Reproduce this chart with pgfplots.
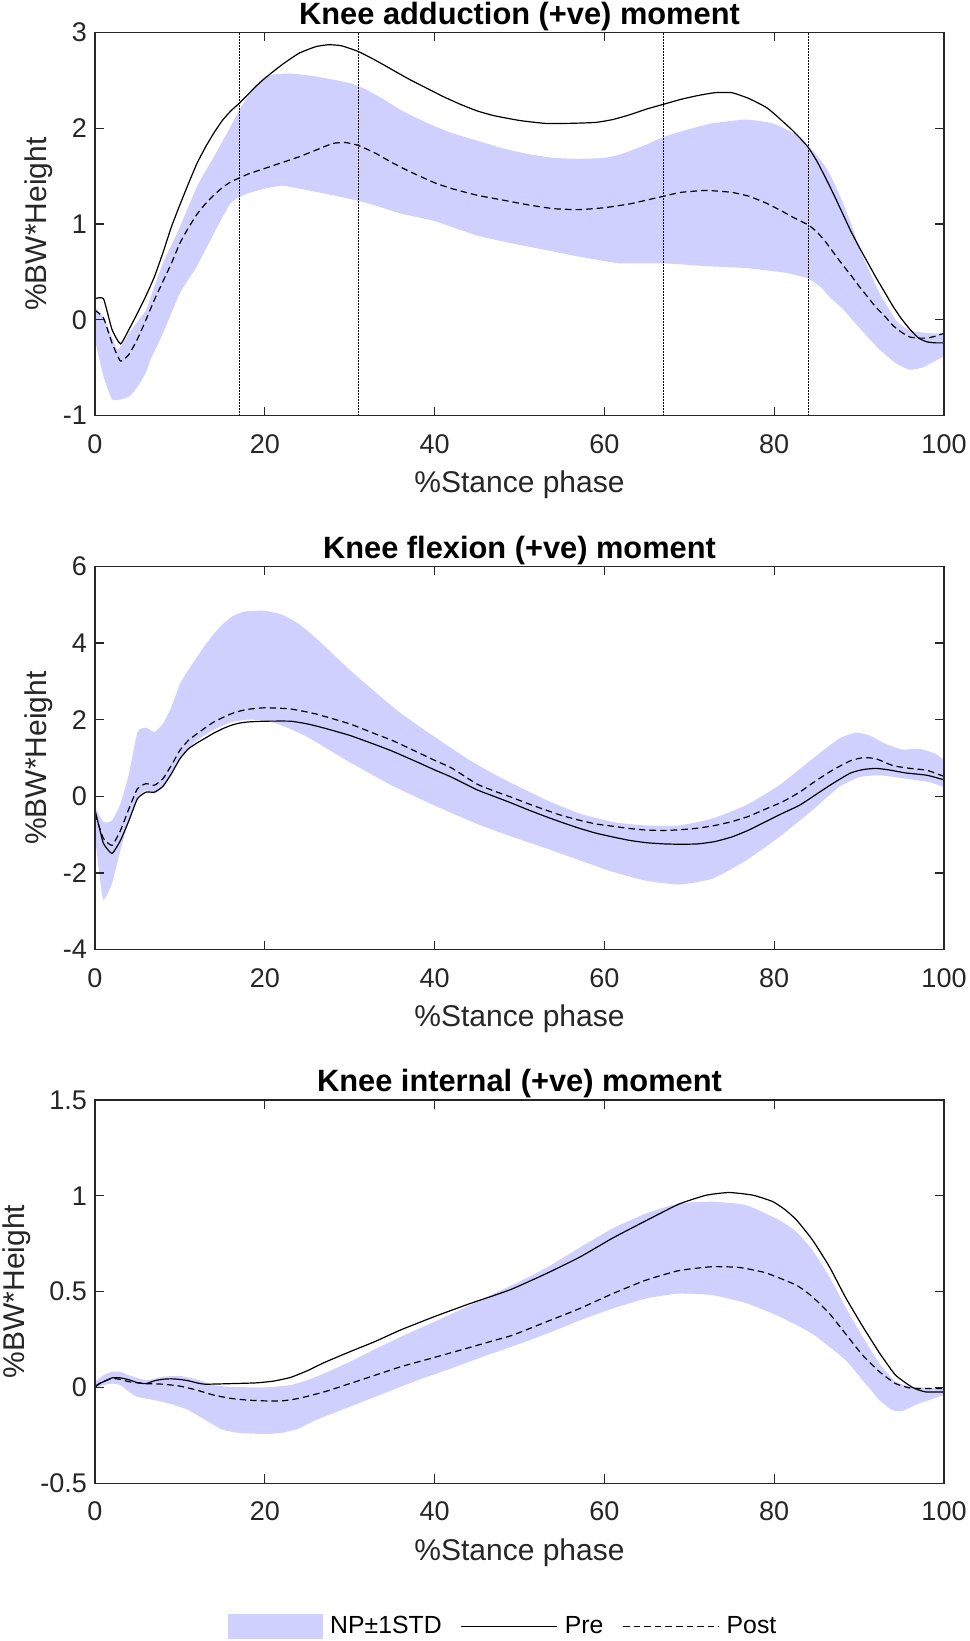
\documentclass[border=0pt]{standalone}
\usepackage{fontspec}
\setmainfont{Liberation Sans}
\usepackage{pgfplots}
\pgfplotsset{compat=1.18}
\usepgfplotslibrary{fillbetween}
\definecolor{axgray}{RGB}{38,38,38}
\definecolor{bandblue}{RGB}{208,208,255}
\pgfplotsset{
  panel/.style={
    scale only axis, width=424.5pt, height=191.7pt,
    xmin=0, xmax=100, xtick={0,20,40,60,80,100},
    tick align=inside, major tick length=4.5pt,
    axis on top,
    axis line style={draw=axgray, line width=0.6pt},
    tick style={draw=axgray, line width=0.6pt},
    /pgf/number format/assume math mode=true,
    tick label style={font=\fontsize{13.5}{15}\selectfont, text=axgray},
    xticklabel style={anchor=base, yshift=-18.8pt},
    yticklabel style={anchor=east, xshift=-0.5pt},
    xlabel={\%Stance phase},
    ylabel={\%BW*Height},
    label style={font=\fontsize{15}{18}\selectfont, text=axgray},
    xlabel style={at={(axis description cs:0.5,0)}, anchor=base, yshift=-38.5pt},
    every axis title/.style={at={(axis description cs:0.5,1)}, anchor=base, yshift=4pt, font=\fontsize{15.4}{18}\selectfont\bfseries, text=black},
  },
  bnd/.style={draw=none, forget plot, smooth, tension=0.3},
  pre/.style={black, line width=0.6pt, forget plot, smooth, tension=0.3},
  post/.style={black, line width=0.6pt, dash pattern=on 3.3pt off 2pt, forget plot, smooth, tension=0.3},
  vline/.style={black, line width=0.5pt, dash pattern=on 0.6pt off 0.9pt, forget plot},
}
\begin{document}
\begin{tikzpicture}
% ---------------- Panel 1 ----------------
\begin{axis}[panel, at={(47.5pt,-207.85pt)}, anchor=south west,
  ymin=-1, ymax=3, ytick={-1,0,1,2,3},
  ylabel style={at={(axis description cs:-0.0571,0.5)}, anchor=base},
  title={Knee adduction (+ve) moment}]
\addplot[bnd, name path=u1] coordinates {
(0,0.12) (1,0.03) (2,-0.18) (2.7,-0.31) (4,-0.14) (5,-0.02) (6,0.10) (7,0.35) (8,0.59) (9,0.78) (10,0.97) (11,1.18) (12,1.39) (13,1.55) (14,1.70) (15,1.86) (16,2.02) (17,2.19) (18,2.33) (19,2.45) (20,2.52) (21,2.56) (23,2.57) (26,2.54) (30,2.47) (32,2.40) (34,2.30) (36,2.19) (38,2.10) (40,2.02) (42,1.95) (45,1.87) (48,1.79) (51,1.73) (54,1.69) (57,1.68) (60,1.69) (62,1.73) (65,1.83) (67,1.91) (70,1.99) (72.7,2.05) (76.7,2.09) (79.8,2.05) (82.2,1.95) (84.5,1.77) (86,1.60) (86.9,1.46) (88,1.24) (89.2,0.97) (90,0.75) (90.8,0.59) (92.4,0.28) (94.3,0.0) (95.5,-0.09) (96.3,-0.12) (98.3,-0.14) (100,-0.14)};
\addplot[bnd, name path=l1] coordinates {
(0,-0.21) (1,-0.59) (2,-0.83) (3,-0.83) (4,-0.80) (5,-0.70) (6,-0.55) (6.5,-0.42) (7,-0.33) (8,-0.14) (9,0.07) (10,0.28) (11,0.42) (12,0.56) (13,0.73) (14,0.90) (15,1.07) (16,1.22) (17,1.28) (18,1.32) (20,1.37) (22,1.40) (24,1.37) (28,1.30) (32,1.22) (36,1.11) (40,1.03) (45,0.88) (49,0.80) (53,0.73) (57,0.66) (61.8,0.59) (67,0.59) (72,0.56) (76.7,0.54) (81.4,0.49) (84,0.43) (85.5,0.34) (86.5,0.24) (88,0.12) (89.2,0.0) (90.8,-0.16) (92.4,-0.31) (94.3,-0.45) (95.9,-0.52) (97.4,-0.50) (98.5,-0.45) (100,-0.38)};
\addplot[bandblue, forget plot] fill between[of=u1 and l1];
\addplot[vline] coordinates {(17,-1) (17,3)};
\addplot[vline] coordinates {(31,-1) (31,3)};
\addplot[vline] coordinates {(67,-1) (67,3)};
\addplot[vline] coordinates {(84,-1) (84,3)};
\addplot[pre] coordinates {
(0,0.22) (1,0.22) (2,-0.10) (3,-0.25) (4,-0.10) (5,0.07) (6,0.25) (7,0.45) (8,0.70) (9,0.97) (10,1.20) (11,1.42) (12,1.63) (13,1.80) (14,1.95) (15,2.08) (16,2.18) (17,2.26) (18,2.35) (19,2.44) (20,2.52) (22,2.66) (24,2.78) (26,2.85) (27.5,2.87) (29,2.86) (31,2.80) (33,2.71) (35,2.61) (37,2.51) (39,2.42) (41,2.33) (43,2.25) (45,2.18) (47,2.13) (50,2.08) (53,2.05) (56,2.05) (59,2.06) (61,2.09) (63,2.14) (65,2.20) (67,2.25) (69,2.30) (71,2.34) (73,2.37) (75,2.37) (77,2.31) (79,2.22) (80,2.15) (81,2.07) (82,1.99) (83,1.90) (84,1.80) (85,1.66) (86,1.49) (87,1.31) (88,1.12) (89,0.93) (90,0.76) (91,0.60) (92,0.44) (93,0.29) (94,0.14) (95,0.01) (96,-0.10) (97,-0.19) (98,-0.23) (99,-0.24) (100,-0.24)};
\addplot[post] coordinates {
(0,0.10) (1,0.02) (2,-0.24) (3,-0.43) (4,-0.36) (5,-0.20) (6,0.0) (7,0.21) (8,0.40) (9,0.59) (10,0.80) (11,0.96) (12,1.10) (13,1.21) (14,1.30) (15,1.38) (16,1.44) (17,1.48) (18,1.52) (20,1.58) (22,1.64) (24,1.70) (26,1.77) (28,1.84) (29.5,1.85) (31,1.82) (33,1.74) (35,1.64) (37,1.55) (40,1.43) (42,1.37) (45,1.30) (48,1.25) (51,1.20) (54,1.16) (57,1.15) (60,1.17) (63,1.21) (65,1.25) (67,1.29) (69,1.33) (72,1.35) (75,1.33) (77,1.29) (79,1.22) (81,1.13) (82,1.08) (84,0.99) (85,0.92) (86,0.82) (87,0.70) (88,0.58) (89,0.47) (90,0.35) (91,0.24) (92,0.13) (93,0.04) (94,-0.06) (95,-0.13) (96,-0.18) (97,-0.19) (98,-0.19) (99,-0.17) (100,-0.14)};
\end{axis}
% ---------------- Panel 2 ----------------
\begin{axis}[panel, at={(47.5pt,-474.85pt)}, anchor=south west,
  ymin=-4, ymax=6, ytick={-4,-2,0,2,4,6},
  ylabel style={at={(axis description cs:-0.0571,0.5)}, anchor=base},
  title={Knee flexion (+ve) moment}]
\addplot[bnd, name path=u2] coordinates {
(0,-0.28) (1,-0.67) (2,-0.63) (3,-0.19) (4,0.59) (5,1.68) (6,1.79) (7,1.68) (8,1.89) (9,2.33) (10,2.93) (11,3.30) (12,3.63) (13,3.95) (14,4.24) (15,4.48) (16,4.67) (17,4.78) (18,4.83) (20,4.84) (22,4.74) (24,4.50) (26,4.13) (28,3.72) (30,3.30) (33,2.72) (36,2.17) (40,1.55) (44,0.96) (47,0.58) (49.2,0.33) (53.2,-0.10) (57.1,-0.45) (61,-0.67) (64.9,-0.76) (68.8,-0.76) (72.7,-0.58) (76.7,-0.23) (80.6,0.29) (84.5,0.98) (87.6,1.50) (89.6,1.66) (91.2,1.59) (93.1,1.37) (95.1,1.22) (97.1,1.24) (99,1.11) (100,0.94)};
\addplot[bnd, name path=l2] coordinates {
(0,-1.06) (0.5,-2.0) (1,-2.7) (2,-2.27) (3,-1.40) (4,-0.63) (5,-0.02) (6,0.16) (7,0.07) (8,0.24) (9,0.59) (10,1.02) (12,1.46) (14,1.74) (16,1.93) (18,2.0) (20,1.98) (22,1.85) (25,1.55) (30,0.89) (35,0.28) (40,-0.24) (45,-0.72) (49.2,-1.06) (53.2,-1.36) (57.1,-1.67) (61,-1.97) (64.9,-2.20) (68.8,-2.30) (72.7,-2.15) (76.7,-1.67) (80.6,-1.06) (84.5,-0.36) (87.6,0.24) (90,0.50) (92.4,0.55) (95.5,0.46) (98.3,0.37) (100,0.24)};
\addplot[bandblue, forget plot] fill between[of=u2 and l2];
\addplot[pre] coordinates {
(0,-0.36) (0.5,-0.8) (1,-1.23) (2,-1.49) (3,-1.15) (4,-0.63) (5,-0.06) (6,0.11) (7,0.11) (8,0.26) (9,0.59) (10,0.98) (11,1.24) (12,1.39) (13,1.52) (14,1.65) (15,1.76) (16,1.85) (17,1.91) (18,1.94) (20,1.96) (23,1.96) (25,1.89) (27,1.78) (30,1.59) (33,1.35) (35,1.18) (38,0.89) (40,0.69) (42,0.50) (45,0.17) (47,0.0) (49,-0.17) (51,-0.35) (53,-0.52) (55,-0.68) (57,-0.83) (59,-0.96) (61,-1.06) (63,-1.15) (65,-1.21) (67,-1.24) (69,-1.25) (71,-1.24) (73,-1.18) (75,-1.06) (77,-0.88) (79,-0.66) (81,-0.44) (83,-0.23) (85,0.06) (87,0.35) (89,0.61) (90.5,0.70) (92,0.73) (93.5,0.69) (95.5,0.61) (98,0.55) (100,0.43)};
\addplot[post] coordinates {
(0,-0.45) (0.5,-0.8) (1,-1.10) (2,-1.28) (3,-0.89) (4,-0.32) (5,0.20) (6,0.33) (7,0.29) (8,0.46) (9,0.81) (10,1.20) (11,1.46) (12,1.63) (13,1.79) (14,1.94) (15,2.05) (16,2.15) (17,2.22) (18,2.27) (20,2.31) (23,2.28) (26,2.15) (30,1.89) (33,1.63) (35,1.46) (38,1.15) (40,0.94) (42,0.74) (45,0.32) (47,0.14) (49,-0.02) (51,-0.19) (53,-0.35) (55,-0.50) (57,-0.62) (59,-0.72) (61,-0.78) (63,-0.84) (65,-0.88) (67,-0.89) (69,-0.87) (71,-0.83) (73,-0.76) (75,-0.66) (77,-0.52) (79,-0.33) (81,-0.14) (83,0.11) (85,0.42) (87,0.70) (89,0.93) (90.5,1.01) (92,0.98) (94,0.80) (96,0.73) (98,0.68) (100,0.52)};
\end{axis}
% ---------------- Panel 3 ----------------
\begin{axis}[panel, at={(47.5pt,-741.65pt)}, anchor=south west,
  ymin=-0.5, ymax=1.5, ytick={-0.5,0,0.5,1,1.5},
  ylabel style={at={(axis description cs:-0.0836,0.5)}, anchor=base},
  title={Knee internal (+ve) moment},
  legend columns=3,
  legend style={at={(0.1567,-0.3731)}, anchor=west, draw=none, fill=none,
    inner xsep=0pt, inner ysep=0pt,
    font=\fontsize{12.4}{14}\selectfont,
    nodes={inner sep=0pt, text=black},
    /tikz/every odd column/.append style={column sep=3.5pt},
    /tikz/every even column/.append style={column sep=9.5pt}}]
\addplot[bnd, name path=u3] coordinates {
(0,0.03) (1,0.064) (2,0.082) (3,0.082) (4,0.064) (6,0.038) (8,0.056) (10,0.06) (12,0.042) (14,0.012) (16,0.003) (20,0.0) (23,0.012) (25,0.038) (27,0.073) (30,0.134) (33,0.2) (36,0.264) (40,0.343) (44,0.425) (47,0.49) (49.2,0.535) (53.2,0.625) (57.1,0.73) (61,0.83) (64.9,0.908) (68.8,0.96) (72.7,0.969) (76.7,0.951) (80.6,0.873) (82.6,0.812) (84.5,0.717) (86.5,0.577) (88.4,0.42) (90.4,0.264) (92.4,0.125) (94.3,0.03) (96.3,0.003) (100,-0.005)};
\addplot[bnd, name path=l3] coordinates {
(0,-0.005) (1,0.012) (2,0.02) (3,0.012) (4,-0.023) (5,-0.049) (7,-0.066) (9,-0.087) (11,-0.118) (13,-0.17) (15,-0.22) (17,-0.237) (20,-0.243) (22,-0.237) (24,-0.214) (26,-0.17) (29,-0.118) (32,-0.066) (35,-0.014) (38,0.038) (42,0.10) (45,0.15) (47.6,0.19) (49.2,0.215) (53.2,0.28) (57.1,0.35) (61,0.412) (64.9,0.464) (68.8,0.49) (72.7,0.482) (76.7,0.44) (80.6,0.37) (84.5,0.28) (88.4,0.143) (90.4,0.038) (92.4,-0.066) (93.9,-0.118) (95.1,-0.122) (97.1,-0.083) (100,-0.04)};
\addplot[bandblue, forget plot] fill between[of=u3 and l3];
\addplot[pre] coordinates {
(0,0.0) (0.5,0.02) (1,0.03) (2,0.05) (3,0.05) (4,0.04) (5,0.025) (6,0.02) (7,0.035) (8,0.043) (9,0.045) (10,0.042) (11,0.035) (12,0.024) (13,0.017) (16,0.02) (19,0.024) (21,0.033) (23,0.052) (25,0.087) (27,0.13) (30,0.186) (33,0.24) (36,0.30) (40,0.37) (44,0.435) (47,0.48) (49.2,0.515) (53.2,0.595) (57.1,0.68) (61,0.78) (64.9,0.87) (68.8,0.957) (72,1.003) (74.7,1.017) (77.5,1.003) (79.8,0.97) (81.2,0.93) (82.6,0.875) (84.5,0.77) (86.5,0.63) (88.4,0.47) (90.4,0.32) (92.4,0.18) (94.3,0.064) (96.3,0.0) (97.8,-0.023) (100,-0.023)};
\addplot[post] coordinates {
(0,0.007) (1,0.03) (2,0.047) (3,0.042) (4,0.03) (6,0.02) (8,0.017) (10,0.007) (12,-0.014) (14,-0.04) (16,-0.057) (18,-0.066) (20,-0.07) (22,-0.07) (24,-0.057) (27,-0.023) (30,0.02) (33,0.064) (36,0.108) (40,0.157) (44,0.207) (47,0.245) (49.2,0.273) (53.2,0.343) (57.1,0.412) (61,0.49) (64.9,0.56) (68.8,0.61) (72.7,0.63) (75.9,0.626) (79,0.598) (82.6,0.534) (84.5,0.473) (86.5,0.386) (88.4,0.28) (90.4,0.169) (92.4,0.082) (94.3,0.02) (96.3,-0.005) (100,-0.005)};
\addlegendimage{legend image code/.code={\fill[bandblue] (0pt,-6pt) rectangle (47pt,6pt);}}
\addlegendentry{NP±1STD}
\addlegendimage{legend image code/.code={\draw[black, line width=0.6pt] (0pt,0pt) -- (48pt,0pt);}}
\addlegendentry{Pre}
\addlegendimage{legend image code/.code={\draw[black, line width=0.6pt, dash pattern=on 3.3pt off 2pt] (0pt,0pt) -- (48pt,0pt);}}
\addlegendentry{Post}
\end{axis}
\pgfresetboundingbox
\useasboundingbox (0,0) rectangle (484.5pt,-820.5pt);
\end{tikzpicture}
\end{document}
